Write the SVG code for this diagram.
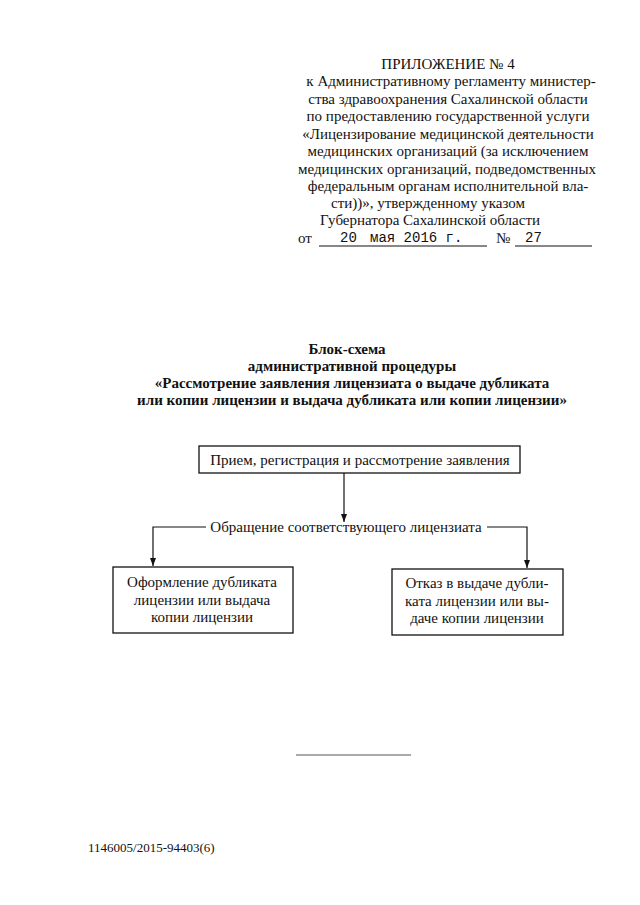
<svg xmlns="http://www.w3.org/2000/svg" width="640" height="905" viewBox="0 0 640 905">
<style>
text{font-family:"Liberation Serif","Times New Roman",serif;font-size:15px;fill:#111}
.c{text-anchor:middle}
.b{font-weight:bold}
.m{font-family:"Liberation Mono","Courier New",monospace;font-size:14px}
.box{fill:#fff;stroke:#111;stroke-width:1.3}
.ln{fill:none;stroke:#111;stroke-width:1.2}
</style>
<defs>
<marker id="ah" viewBox="0 0 8 8" refX="8" refY="4" markerWidth="8" markerHeight="8" markerUnits="userSpaceOnUse" orient="auto">
<path d="M0,1 L8,4 L0,7 Z" fill="#111"/>
</marker>
</defs>
<g id="header">
<text class="c" x="448" y="69">ПРИЛОЖЕНИЕ № 4</text>
<text class="c" x="451" y="86">к Административному регламенту министер-</text>
<text class="c" x="448" y="104">ства здравоохранения Сахалинской области</text>
<text class="c" x="448" y="121">по предоставлению государственной услуги</text>
<text class="c" x="448" y="139">«Лицензирование медицинской деятельности</text>
<text class="c" x="448" y="156">медицинских организаций (за исключением</text>
<text class="c" x="447" y="174">медицинских организаций, подведомственных</text>
<text class="c" x="448" y="191">федеральным органам исполнительной вла-</text>
<text class="c" x="428" y="208">сти))», утвержденному указом</text>
<text class="c" x="430" y="225">Губернатора Сахалинской области</text>
<text x="298" y="243">от</text>
<text class="m" x="340" y="242">20</text>
<text class="m" x="370" y="242">мая 2016 г.</text>
<text x="496" y="243">№</text>
<text class="m" x="525" y="242">27</text>
<line class="ln" x1="319" y1="246" x2="487" y2="246" stroke-width="1"/>
<line class="ln" x1="515" y1="246" x2="592" y2="246" stroke-width="1"/>
</g>
<g id="title">
<text class="c b" x="347" y="354">Блок-схема</text>
<text class="c b" x="352" y="371">административной процедуры</text>
<text class="c b" x="352" y="388">«Рассмотрение заявления лицензиата о выдаче дубликата</text>
<text class="c b" x="352" y="405">или копии лицензии и выдача дубликата или копии лицензии»</text>
</g>
<g id="connectors">
<line class="ln" x1="344" y1="473" x2="344" y2="522" marker-end="url(#ah)"/>
<polyline class="ln" points="206,527 153,527 153,566" marker-end="url(#ah)"/>
<polyline class="ln" points="487,527 527,527 527,568" marker-end="url(#ah)"/>
<text class="c" x="346" y="532">Обращение соответствующего лицензиата</text>
</g>
<g id="node-reception">
<rect class="box" x="199" y="446" width="321" height="27"/>
<text class="c" x="360" y="465">Прием, регистрация и рассмотрение заявления</text>
</g>
<g id="node-issue">
<rect class="box" x="113" y="567" width="180" height="66"/>
<text class="c" x="202" y="587">Оформление дубликата</text>
<text class="c" x="202" y="605">лицензии или выдача</text>
<text class="c" x="202" y="622">копии лицензии</text>
</g>
<g id="node-refusal">
<rect class="box" x="392" y="569" width="171" height="66"/>
<text class="c" x="477" y="588">Отказ в выдаче дубли-</text>
<text class="c" x="477" y="606">ката лицензии или вы-</text>
<text class="c" x="477" y="623">даче копии лицензии</text>
</g>
<g id="footer">
<line x1="296" y1="755" x2="411" y2="755" stroke="#555" stroke-width="1"/>
<text x="88" y="852" style="font-size:13px">1146005/2015-94403(6)</text>
</g>
</svg>
